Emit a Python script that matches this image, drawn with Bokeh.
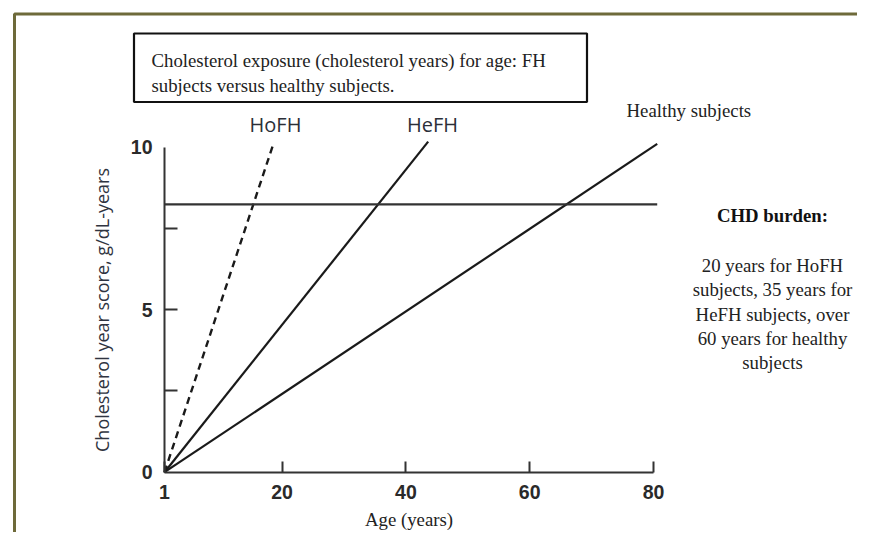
from bokeh.plotting import figure
from bokeh.models import Range1d, FixedTicker, Label, BoxAnnotation, LinearAxis
from bokeh.embed import file_html
from bokeh.resources import INLINE

# ---- data ----
hofh_age = [1, 18.5]
hofh_score = [0, 10.05]
hefh_age = [1, 43.6]
hefh_score = [0, 10.17]
healthy_age = [1, 80.6]
healthy_score = [0, 10.1]
threshold_age = [1, 80.6]
threshold_score = [8.24, 8.24]

x_ticks = [1, 20, 40, 60, 80]
y_label_ticks = [0, 5, 10]
y_mark_ticks = [2.5, 5, 7.5]

title_lines = ["Cholesterol exposure (cholesterol years) for age: FH",
               "subjects versus healthy subjects."]
chd_title = "CHD burden:"
chd_lines = ["20 years for HoFH", "subjects, 35 years for",
             "HeFH subjects, over", "60 years for healthy", "subjects"]

W, H = 857, 532
# pixel layout of the plotting area (canvas pixels)
PX_X1, PX_X80 = 164.0, 653.0
PX_Y0, PX_Y10 = 471.7, 146.7
sx = (PX_X80 - PX_X1) / 79.0
sy = (PX_Y0 - PX_Y10) / 10.0
X0 = 1 - PX_X1 / sx
X1 = 1 + (W - PX_X1) / sx
Y0 = -(H - PX_Y0) / sy
Y1 = PX_Y0 / sy

p = figure(width=W, height=H, output_backend="svg", toolbar_location=None,
           x_range=Range1d(X0, X1), y_range=Range1d(Y0, Y1),
           x_axis_location=None, y_axis_location=None,
           min_border=0, min_border_left=0, min_border_right=0,
           min_border_top=0, min_border_bottom=0)
p.outline_line_color = None
p.grid.visible = False
p.background_fill_color = "white"
p.border_fill_color = "white"

def dx(px):
    return X0 + px / sx

def dy(py):
    return Y0 + (H - py) / sy

SERIF = "Liberation Serif"
SERIF_SIZE = "18.8px"

line_col = "#1a1a1a"
p.line(hofh_age, hofh_score, line_color=line_col, line_width=2.4, line_dash="7 5")
p.line(hefh_age, hefh_score, line_color=line_col, line_width=2.2)
p.line(healthy_age, healthy_score, line_color=line_col, line_width=2.2)
p.line(threshold_age, threshold_score, line_color="#333333", line_width=2.2)

# axes (fixed at the data origin)
xa = LinearAxis(fixed_location=0)
xa.bounds = (1, 80)
xa.ticker = FixedTicker(ticks=x_ticks)
xa.major_tick_in = 11
xa.major_tick_out = 0
xa.minor_tick_line_color = None
xa.axis_line_width = 2
xa.axis_line_color = "#333333"
xa.major_tick_line_width = 2
xa.major_tick_line_color = "#333333"
xa.major_label_text_font = "Liberation Sans"
xa.major_label_text_font_size = "19.5px"
xa.major_label_text_font_style = "bold"
xa.major_label_text_color = "#2a2a2a"
xa.major_label_standoff = 13
xa.axis_label = "Age (years)"
xa.axis_label_text_font = SERIF
xa.axis_label_text_font_style = "normal"
xa.axis_label_text_font_size = SERIF_SIZE
xa.axis_label_text_color = "#222222"
xa.axis_label_standoff = 6
p.add_layout(xa, "below")

ya = LinearAxis(fixed_location=1)
ya.bounds = (0, 10)
ya.ticker = FixedTicker(ticks=y_label_ticks, minor_ticks=y_mark_ticks)
ya.major_tick_in = 0
ya.major_tick_out = 0
ya.minor_tick_in = 13
ya.minor_tick_out = 0
ya.minor_tick_line_width = 2
ya.minor_tick_line_color = "#333333"
ya.axis_line_width = 2
ya.axis_line_color = "#333333"
ya.major_label_text_font = "Liberation Sans"
ya.major_label_text_font_size = "19.5px"
ya.major_label_text_font_style = "bold"
ya.major_label_text_color = "#2a2a2a"
ya.major_label_standoff = 12
ya.axis_label = "Cholesterol year score, g/dL-years"
ya.axis_label_text_font = "Open Sans"
ya.axis_label_text_font_style = "normal"
ya.axis_label_text_font_size = "18px"
ya.axis_label_text_color = "#2f3440"
ya.axis_label_standoff = 14
p.add_layout(ya, "left")

# outer olive border (top and left visible)
p.add_layout(BoxAnnotation(left=dx(14), right=dx(900), top=dy(13.5), bottom=dy(600),
                           fill_alpha=0, line_color="#6e6a3a", line_alpha=1.0,
                           line_width=3))

# title box
p.add_layout(BoxAnnotation(left=dx(133.5), right=dx(586.5), top=dy(33), bottom=dy(101.5),
                           fill_alpha=0, line_color="#111111", line_alpha=1.0,
                           line_width=2.2))
for i, t in enumerate(title_lines):
    p.add_layout(Label(x=dx(151), y=dy(60 + 25 * i), text=t, text_align="left",
                       text_baseline="alphabetic", text_font=SERIF,
                       text_font_size=SERIF_SIZE, text_color="#222222"))

# curve labels
for t, px in (("HoFH", 275), ("HeFH", 432)):
    p.add_layout(Label(x=dx(px), y=dy(124), text=t, text_align="center",
                       text_baseline="middle", text_font="Open Sans",
                       text_font_size="20px", text_color="#2b2f38"))
p.add_layout(Label(x=dx(626), y=dy(110), text="Healthy subjects", text_align="left",
                   text_baseline="middle", text_font=SERIF,
                   text_font_size=SERIF_SIZE, text_color="#222222"))

# CHD burden text block
p.add_layout(Label(x=dx(772), y=dy(215), text=chd_title, text_align="center",
                   text_baseline="middle", text_font=SERIF,
                   text_font_size=SERIF_SIZE, text_font_style="bold", text_color="#111111"))
for i, t in enumerate(chd_lines):
    p.add_layout(Label(x=dx(772), y=dy(265 + 24.3 * i), text=t, text_align="center",
                       text_baseline="middle", text_font=SERIF,
                       text_font_size=SERIF_SIZE, text_color="#222222"))

open("out.html", "w").write(file_html(p, INLINE))
